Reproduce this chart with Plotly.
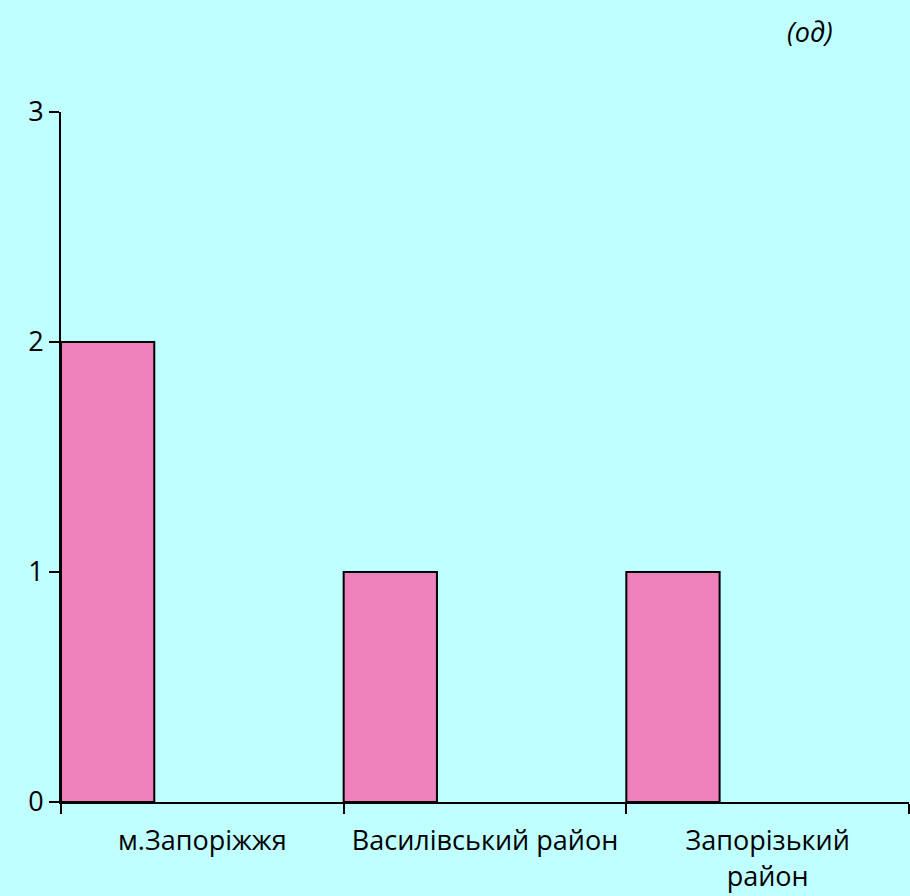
"""
Bar chart: count by district (од).
"""

import plotly.graph_objects as go

# ── Data ────────────────────────────────────────────────────────────────────
CATEGORIES = ["м.Запоріжжя", "Василівський район", "Запорізький<br>район"]
VALUES = [2, 1, 1]
Y_TICKS = [0, 1, 2, 3]

# ── Styling ─────────────────────────────────────────────────────────────────
BG_COLOR = "#C0FFFF"
BAR_COLOR = "#EE80BC"
LINE_COLOR = "#000000"
FONT = "Open Sans, Liberation Sans, sans-serif"
FONT_SIZE = 27

fig = go.Figure(
    go.Bar(
        x=CATEGORIES,
        y=VALUES,
        width=0.33,
        offset=-0.5,
        marker=dict(color=BAR_COLOR, line=dict(color=LINE_COLOR, width=2)),
        hoverinfo="x+y",
    )
)

fig.add_annotation(
    text="<i>(од)</i>",
    xref="paper", yref="paper",
    x=0.913, y=1.116,
    xanchor="right", yanchor="middle",
    showarrow=False,
    font=dict(size=FONT_SIZE, color="#000000", family=FONT),
)

fig.update_layout(
    paper_bgcolor=BG_COLOR,
    plot_bgcolor=BG_COLOR,
    font=dict(family=FONT, size=FONT_SIZE, color="#000000"),
    showlegend=False,
    width=910,
    height=896,
    margin=dict(t=112, b=94, l=61, r=1, pad=0),
    xaxis=dict(
        type="category",
        showgrid=False,
        showline=True,
        linecolor=LINE_COLOR,
        linewidth=2,
        ticks="outside",
        tickson="boundaries",
        ticklen=10,
        tickwidth=2,
        tickcolor=LINE_COLOR,
        tickangle=0,
        ticklabelstandoff=14,
    ),
    yaxis=dict(
        range=[0, 3],
        tickvals=Y_TICKS,
        showgrid=False,
        zeroline=False,
        showline=True,
        linecolor=LINE_COLOR,
        linewidth=2,
        ticks="outside",
        ticklen=10,
        tickwidth=2,
        tickcolor=LINE_COLOR,
    ),
)

# drop the page's default body margin so the figure fills the window
fig.write_html(
    "out.html",
    config=dict(displayModeBar=False),
    post_script=(
        "document.body.style.margin='0';"
        f"document.body.style.background='{BG_COLOR}';"
    ),
)
